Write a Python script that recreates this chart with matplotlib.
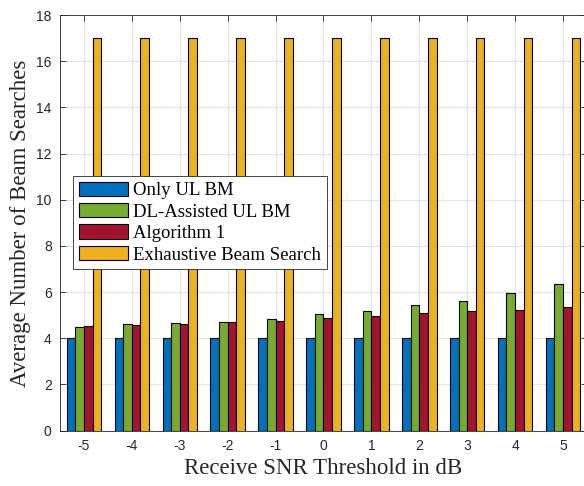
import matplotlib
matplotlib.use("Agg")
import matplotlib.pyplot as plt
import numpy as np

plt.rcParams["axes.unicode_minus"] = False

snr = [-5, -4, -3, -2, -1, 0, 1, 2, 3, 4, 5]
only_ul = [4, 4, 4, 4, 4, 4, 4, 4, 4, 4, 4]
dl_assisted = [4.50, 4.62, 4.65, 4.71, 4.85, 5.03, 5.17, 5.43, 5.63, 5.97, 6.35]
algorithm1 = [4.54, 4.57, 4.62, 4.69, 4.75, 4.87, 4.97, 5.08, 5.17, 5.24, 5.37]
exhaustive = [17, 17, 17, 17, 17, 17, 17, 17, 17, 17, 17]

series = [only_ul, dl_assisted, algorithm1, exhaustive]
names = ["Only UL BM", "DL-Assisted UL BM", "Algorithm 1", "Exhaustive Beam Search"]
colors = ["#0072BD", "#77AC30", "#A2142F", "#EDB120"]

fig = plt.figure(figsize=(5.84, 4.86), dpi=100)
ax = fig.add_axes([0.1027, 0.114, 0.9024, 0.855])

x = np.array(snr, dtype=float)
w = 0.18
for i, (vals, name, c) in enumerate(zip(series, names, colors)):
    ax.bar(x + (i - 1.5) * w, vals, width=w, color=c, edgecolor="black",
           linewidth=0.8, label=name, zorder=3)

ax.set_xlim(-5.5, 5.5)
ax.set_ylim(0, 18)
ax.set_xticks(snr)
ax.set_yticks(range(0, 19, 2))
ax.grid(True, color="#e3e3e3", linewidth=0.8, zorder=0)
ax.set_axisbelow(True)
ax.tick_params(direction="in", top=True, right=True, length=4, width=0.6,
               color="#262626", labelsize=10, labelcolor="#262626", pad=6)
for lab in ax.get_xticklabels() + ax.get_yticklabels():
    lab.set_family("Liberation Sans")
for s in ax.spines.values():
    s.set_color("#262626")
    s.set_linewidth(0.6)

ax.set_xlabel("Receive SNR Threshold in dB", family="Liberation Serif", fontsize=16.5, color="#262626")
ax.set_ylabel("Average Number of Beam Searches", family="Liberation Serif", fontsize=16.5, color="#262626")

leg = ax.legend(loc="upper left", bbox_to_anchor=(0.025, 0.613), borderaxespad=0,
                prop={"family": "Liberation Serif", "size": 13.5}, fancybox=False,
                edgecolor="#262626", framealpha=1, handlelength=2.6, handleheight=0.8,
                labelspacing=0.2, handletextpad=0.3, borderpad=0.3)
leg.get_frame().set_linewidth(0.6)

fig.savefig("out.png", dpi=100)
